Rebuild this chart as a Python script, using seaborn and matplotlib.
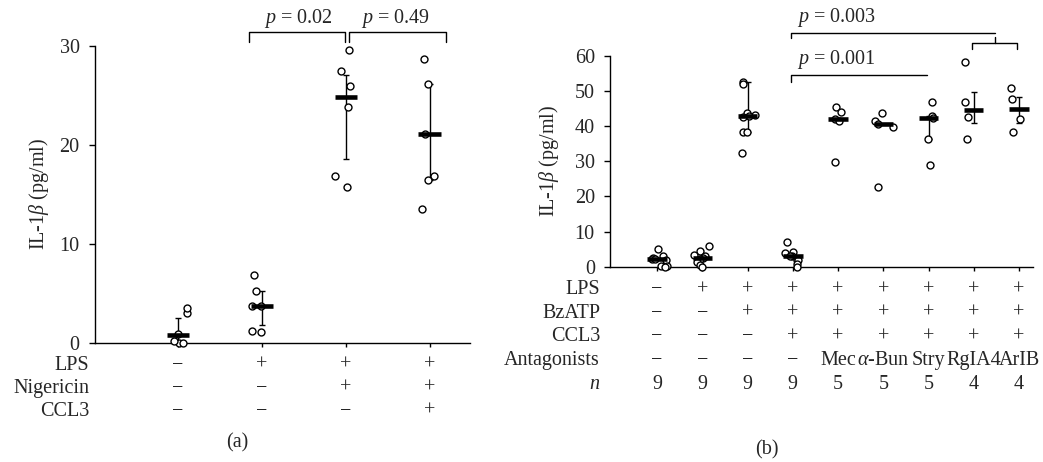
import numpy as np
import pandas as pd
import seaborn as sns
import matplotlib.pyplot as plt
from matplotlib.transforms import blended_transform_factory

# ---- panel (a) data ----
a_ctrl = [0.0, 0.0, 0.2, 0.9, 3.0, 3.5]
a_lps = [6.9, 5.2, 3.7, 3.7, 1.2, 1.1]
a_lps_nig = [29.6, 27.4, 25.9, 23.8, 16.9, 15.7]
a_lps_nig_ccl3 = [28.7, 26.1, 21.1, 16.9, 16.5, 13.5]
a_median = [0.8, 3.7, 24.8, 21.1]
a_err_lo = [0.1, 1.8, 18.6, 16.5]
a_err_hi = [2.5, 5.2, 27.0, 26.1]
a_row_names = ['LPS', 'Nigericin', 'CCL3']
a_row_lps = ['−', '+', '+', '+']
a_row_nig = ['−', '−', '+', '+']
a_row_ccl3 = ['−', '−', '−', '+']

# ---- panel (b) data ----
b_groups = [
    [4.9, 3.0, 2.6, 2.2, 2.1, 1.8, 0.3, 0.1, 0.0],
    [5.9, 4.6, 3.4, 3.0, 2.6, 2.3, 1.4, 0.6, 0.0],
    [52.6, 52.0, 43.8, 43.2, 42.9, 42.5, 38.4, 38.4, 32.2],
    [7.1, 4.2, 3.8, 3.1, 3.0, 2.0, 1.8, 0.7, 0.0],
    [45.3, 44.1, 42.0, 41.5, 29.7],
    [43.6, 41.5, 40.6, 39.8, 22.6],
    [46.9, 42.8, 42.2, 36.4, 28.9],
    [58.1, 46.7, 42.5, 36.2],
    [50.7, 47.7, 42.0, 38.4],
]
b_median = [2.1, 2.6, 42.9, 3.0, 42.0, 40.6, 42.4, 44.6, 44.8]
b_err_lo = [2.1, 2.6, 38.4, 3.0, 42.0, 40.6, 36.4, 40.9, 41.0]
b_err_hi = [2.1, 2.6, 52.6, 3.0, 42.0, 40.6, 42.8, 49.6, 48.4]
b_row_names = ['LPS', 'BzATP', 'CCL3', 'Antagonists', '$n$']
b_row_lps = ['−', '+', '+', '+', '+', '+', '+', '+', '+']
b_row_bzatp = ['−', '−', '+', '+', '+', '+', '+', '+', '+']
b_row_ccl3 = ['−', '−', '−', '+', '+', '+', '+', '+', '+']
b_row_antag = ['−', '−', '−', '−', 'Mec', r'$\alpha$-Bun', 'Stry', 'RgIA4', 'ArIB']
b_row_n = ['9', '9', '9', '9', '5', '5', '5', '4', '4']

sns.set_theme(style='ticks')
plt.rcParams['font.family'] = ['Liberation Serif', 'DejaVu Serif']
plt.rcParams['mathtext.fontset'] = 'custom'
plt.rcParams['mathtext.rm'] = 'Liberation Serif'
plt.rcParams['mathtext.it'] = 'Liberation Serif:italic'
plt.rcParams['font.size'] = 14.5
np.random.seed(3)

FS = 14.5
fig = plt.figure(figsize=(10.43, 4.62), dpi=100)
axa = fig.add_axes([0.0911, 0.2576, 0.3595, 0.6434])
axb = fig.add_axes([0.5849, 0.4227, 0.4051, 0.4567])


def draw_panel(ax, groups, med, lo, hi, barw, jit):
    rows = []
    for i, g in enumerate(groups):
        for v in g:
            rows.append({'grp': i, 'val': v})
    df = pd.DataFrame(rows)
    x = np.arange(len(groups))
    med = np.array(med)
    ax.errorbar(x, med, yerr=[med - np.array(lo), np.array(hi) - med], fmt='none',
                ecolor='black', elinewidth=1, capsize=2, capthick=1, zorder=2)
    sns.stripplot(data=df, x='grp', y='val', ax=ax, color='white', edgecolor='black',
                  linewidth=1, size=5, jitter=jit, zorder=3)
    for c in ax.collections:
        c.set_clip_on(False)
    ax.hlines(med, x - barw / 2, x + barw / 2, color='black', lw=3.3, zorder=4)
    ax.set_xlabel('')
    ax.set_xticklabels([])
    ax.set_ylabel(r'IL-1$\beta$ (pg/ml)', fontsize=FS)
    ax.tick_params(axis='y', direction='out', length=4, width=1, pad=7, labelsize=FS, color='black')
    ax.tick_params(axis='x', direction='out', length=3, width=1, color='black')
    sns.despine(ax=ax)
    for s in ['left', 'bottom']:
        ax.spines[s].set_linewidth(1)
        ax.spines[s].set_color('black')


def bracket(ax, xs, ys):
    ax.plot(xs, ys, color='black', lw=1, clip_on=False)


# panel (a)
draw_panel(axa, [a_ctrl, a_lps, a_lps_nig, a_lps_nig_ccl3], a_median, a_err_lo, a_err_hi, 0.27, 0.13)
axa.set_xlim(-0.99, 3.48)
axa.set_ylim(0, 30)
axa.set_yticks([0, 10, 20, 30])
axa.yaxis.labelpad = 6
bracket(axa, [0.85, 0.85, 1.99, 1.99], [30.4, 31.4, 31.4, 30.4])
bracket(axa, [2.04, 2.04, 3.19, 3.19], [30.4, 31.4, 31.4, 30.4])
axa.text(1.43, 32.3, '$p$ = 0.02', ha='center', va='baseline', fontsize=FS)
axa.text(2.59, 32.3, '$p$ = 0.49', ha='center', va='baseline', fontsize=FS)

tra = blended_transform_factory(axa.transData, fig.transFigure)
a_rows = [a_row_lps, a_row_nig, a_row_ccl3]
a_row_y = [0.2088, 0.1597, 0.1092]
for name, vals, yy in zip(a_row_names, a_rows, a_row_y):
    fig.text(0.0856, yy, name, ha='right', va='center', fontsize=FS)
    for i, s in enumerate(vals):
        axa.text(i, yy, s, transform=tra, ha='center', va='center', fontsize=FS)
fig.text(0.2277, 1 - 443 / 462, '(a)', ha='center', va='center', fontsize=FS)

# panel (b)
draw_panel(axb, b_groups, b_median, b_err_lo, b_err_hi, 0.43, 0.22)
axb.set_xlim(-1.04, 8.30)
axb.set_ylim(0, 60)
axb.set_yticks([0, 10, 20, 30, 40, 50, 60])
axb.yaxis.labelpad = 10
bracket(axb, [2.97, 2.97, 7.46], [64.9, 66.6, 66.6])
bracket(axb, [7.46, 7.46], [65.2, 63.5])
bracket(axb, [6.96, 6.96, 7.96, 7.96], [61.9, 63.5, 63.5, 61.9])
bracket(axb, [2.97, 2.97, 5.97], [52.6, 54.5, 54.5])
axb.text(3.97, 69.7, '$p$ = 0.003', ha='center', va='baseline', fontsize=FS)
axb.text(3.97, 57.6, '$p$ = 0.001', ha='center', va='baseline', fontsize=FS)

trb = blended_transform_factory(axb.transData, fig.transFigure)
b_rows = [b_row_lps, b_row_bzatp, b_row_ccl3, b_row_antag, b_row_n]
b_row_y = [0.3731, 0.3225, 0.2714, 0.2195, 0.1667]
for name, vals, yy in zip(b_row_names, b_rows, b_row_y):
    fig.text(0.5753, yy, name, ha='right', va='center', fontsize=FS)
    for i, s in enumerate(vals):
        axb.text(i, yy, s, transform=trb, ha='center', va='center', fontsize=FS)
fig.text(0.735, 1 - 449.5 / 462, '(b)', ha='center', va='center', fontsize=FS)

fig.savefig('out.png', dpi=100)
